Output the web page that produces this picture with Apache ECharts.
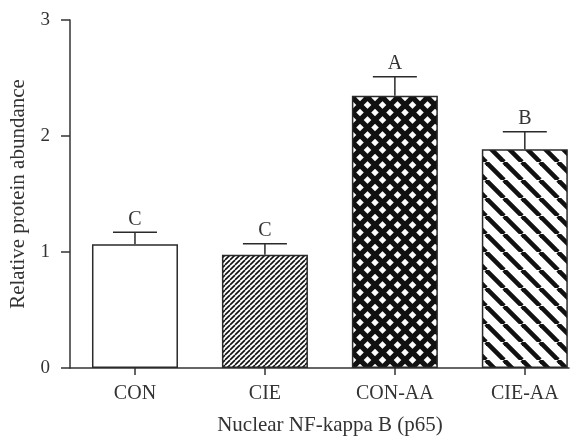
<!DOCTYPE html>
<html>
<head>
<meta charset="utf-8">
<script src="https://cdn.jsdelivr.net/npm/echarts@6/dist/echarts.min.js"></script>
<style>html,body{margin:0;padding:0;background:#fff}#c{width:586px;height:436px}</style>
</head>
<body>
<div id="c"></div>
<script>
var categories = ['CON', 'CIE', 'CON-AA', 'CIE-AA'];
var means = [1.066, 0.977, 2.347, 1.885];
var upper = [1.170, 1.072, 2.511, 2.037];
var letters = ['C', 'C', 'A', 'B'];
var yTicks = [0, 1, 2, 3];

function makePattern(size, lw, dirs) {
  var c = document.createElement('canvas');
  c.width = size; c.height = size;
  var ctx = c.getContext('2d');
  ctx.fillStyle = '#fff';
  ctx.fillRect(0, 0, size, size);
  ctx.strokeStyle = '#111';
  ctx.lineWidth = lw;
  dirs.forEach(function (d) {
    for (var k = -1; k <= 1; k++) {
      ctx.beginPath();
      if (d === '/') { ctx.moveTo(k * size, size); ctx.lineTo(k * size + size, 0); }
      else { ctx.moveTo(k * size, 0); ctx.lineTo(k * size + size, size); }
      ctx.stroke();
    }
  });
  return { image: c, repeat: 'repeat' };
}

var fills = [
  '#ffffff',
  makePattern(5, 1.6, ['/']),
  makePattern(15, 5.2, ['/', '\\']),
  makePattern(18, 4.6, ['\\'])
];

var FONT = '"Liberation Serif", "DejaVu Serif", serif';
var xs = categories.map(function (c, i) { return i + 1; });

var chart = echarts.init(document.getElementById('c'));
chart.setOption({
  animation: false,
  grid: { left: 70, top: 20, right: 17, bottom: 68, containLabel: false, outerBoundsMode: 'none' },
  xAxis: {
    type: 'value', min: 0.5, max: 4.34,
    name: 'Nuclear NF-kappa B (p65)', nameLocation: 'middle', nameGap: 47,
    nameTextStyle: { fontFamily: FONT, fontSize: 21, color: '#333', padding: [0, 0, 0, 21] },
    splitLine: { show: false },
    axisLine: { lineStyle: { color: '#333', width: 1.5 } },
    axisTick: { show: true, length: 7, customValues: xs, lineStyle: { color: '#333', width: 1.5 } },
    axisLabel: {
      customValues: xs, margin: 16,
      fontFamily: FONT, fontSize: 20, color: '#333',
      formatter: function (v) { return categories[Math.round(v) - 1] || ''; }
    }
  },
  yAxis: {
    type: 'value', min: 0, max: 3, interval: 1,
    name: 'Relative protein abundance', nameLocation: 'middle', nameGap: 41,
    nameTextStyle: { fontFamily: FONT, fontSize: 21, color: '#333' },
    splitLine: { show: false },
    axisLine: { show: true, lineStyle: { color: '#333', width: 1.5 } },
    axisTick: { show: true, length: 9, lineStyle: { color: '#333', width: 1.5 } },
    axisLabel: { margin: 20, fontFamily: FONT, fontSize: 19, color: '#333' }
  },
  series: [
    {
      type: 'bar',
      barWidth: 86,
      data: means.map(function (m, i) {
        return {
          value: [xs[i], m],
          itemStyle: { color: fills[i], borderColor: '#2a2a2a', borderWidth: 1.5 }
        };
      }),
      z: 2
    },
    {
      type: 'custom',
      data: means.map(function (m, i) { return [xs[i], m, upper[i]]; }),
      renderItem: function (params, api) {
        var i = params.dataIndex;
        var b = api.coord([api.value(0), api.value(1)]);
        var t = api.coord([api.value(0), api.value(2)]);
        var hw = 22;
        var st = { stroke: '#2a2a2a', lineWidth: 1.5 };
        return {
          type: 'group',
          children: [
            { type: 'line', shape: { x1: b[0], y1: b[1], x2: t[0], y2: t[1] }, style: st },
            { type: 'line', shape: { x1: t[0] - hw, y1: t[1], x2: t[0] + hw, y2: t[1] }, style: st },
            { type: 'text', style: { x: t[0], y: t[1] - 3, text: letters[i], fill: '#333', font: '20px ' + FONT, textAlign: 'center', textVerticalAlign: 'bottom' } }
          ]
        };
      },
      z: 3
    }
  ]
});
</script>
</body>
</html>
